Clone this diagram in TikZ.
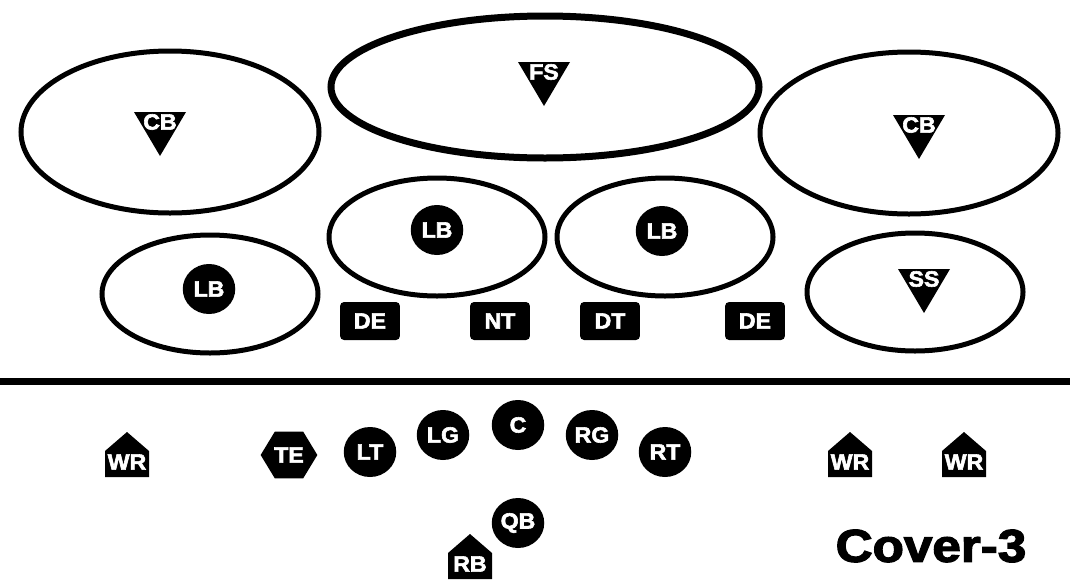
\documentclass[tikz,border=0pt]{standalone}
\usepackage{fontspec}
\newfontfamily\heavy[FakeBold=2.6]{Liberation Sans Bold}
\usetikzlibrary{shapes.geometric}

\begin{document}
\begin{tikzpicture}[x=1pt, y=-1pt,
    every node/.style={font=\heavy\fontsize{22}{22}\selectfont, text=white, inner sep=0pt, xscale=1.05},
    zone/.style={draw=black, line width=5pt},
    man/.style={circle, fill=black, minimum size=50pt},
    lineman/.style={rectangle, fill=black, rounded corners=4pt, minimum width=57pt, minimum height=38pt},
    tightend/.style={regular polygon, regular polygon sides=6, fill=black, minimum size=54pt},
]
\useasboundingbox (0,0) rectangle (1070,587);

% deep thirds and underneath zones
\draw[zone] (170,132) ellipse [x radius=149, y radius=81];
\draw[zone, line width=7pt] (545,87) ellipse [x radius=214, y radius=71];
\draw[zone] (909,133) ellipse [x radius=149, y radius=81];
\draw[zone] (437,237) ellipse [x radius=108, y radius=59];
\draw[zone] (665,237) ellipse [x radius=108, y radius=59];
\draw[zone] (210,294) ellipse [x radius=108, y radius=59];
\draw[zone] (915,292) ellipse [x radius=108, y radius=59];

% secondary: triangles
\foreach \x/\y/\name/\txt in {160/112/cbl/CB, 544/62/fs/FS, 919/115/cbr/CB, 924/269/ss/SS}{
    \fill[black] (\x-26,\y) -- (\x+26,\y) -- (\x,\y+44) -- cycle;
    \node (\name) at (\x,\y+10) {\txt};
}

% linebackers
\foreach \x/\y/\name in {437/230/lbm, 662/231/lbw, 209/289/lbs}{
    \node[man] (\name) at (\x,\y) {LB};
}

% front four
\foreach \x/\name/\txt in {370/del/DE, 500/nt/NT, 610/dt/DT, 755/der/DE}{
    \node[lineman] (\name) at (\x,321) {\txt};
}

% line of scrimmage
\draw[black, line width=7pt] (0,381) -- (1070,381);

% offensive line
\foreach \x/\y/\name/\txt in {370/452/lt/LT, 443/435/lg/LG, 518/425/c/C, 592/435/rg/RG, 665/452/rt/RT, 518/523/qb/QB}{
    \node[man] (\name) at (\x,\y) {\txt};
}
\node[tightend] (te) at (289,455) {TE};

% receivers and back
\foreach \x/\y/\name/\txt in {127/455/wrl/WR, 850/455/wrm/WR, 964/455/wrr/WR, 470/557/rb/RB}{
    \fill[black] (\x,\y-23) -- (\x+22,\y-4) -- (\x+22,\y+22) -- (\x-22,\y+22) -- (\x-22,\y-4) -- cycle;
    \node (\name) at (\x,\y+7) {\txt};
}

\node[text=black, font=\heavy\fontsize{46}{46}\selectfont, xscale=1.06] (title) at (931,546) {Cover-3};
\end{tikzpicture}
\end{document}
